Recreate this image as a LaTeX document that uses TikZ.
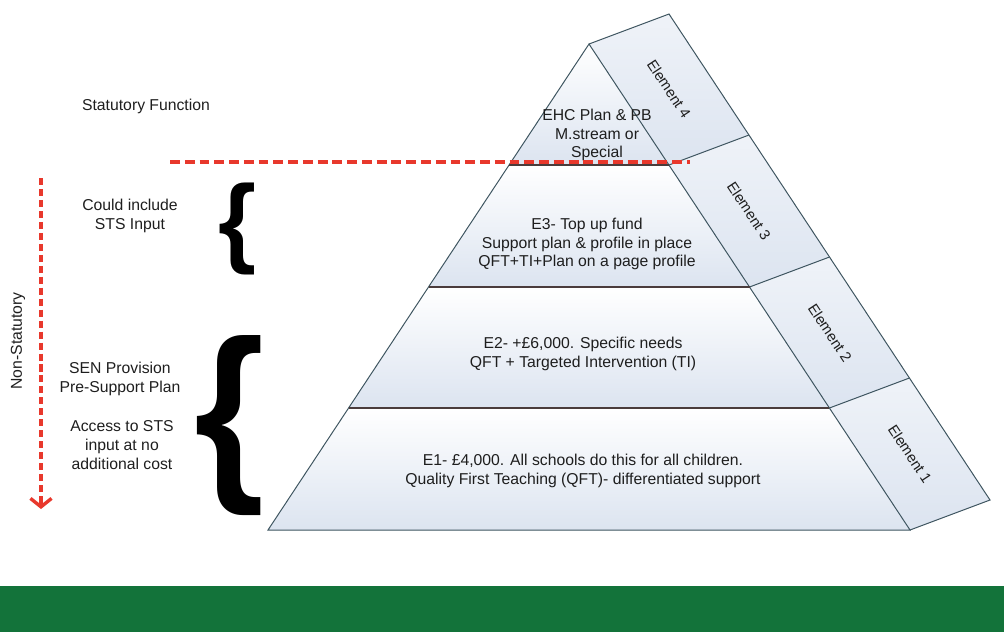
\documentclass[tikz,border=0pt]{standalone}
\usepackage{fontspec}
\setsansfont{Liberation Sans}
\usepackage{graphicx}
\usetikzlibrary{arrows.meta,calc}
\definecolor{pyrblue}{HTML}{DCE4F0}
\definecolor{edgegray}{HTML}{3E5560}
\definecolor{tierline}{HTML}{4A3C3C}
\definecolor{dashred}{HTML}{E8382C}
\definecolor{bandgreen}{HTML}{13733A}
\definecolor{txtgray}{HTML}{1E1E1E}

\begin{document}
\begin{tikzpicture}[x=0.025cm,y=-0.025cm,font=\sffamily\fontsize{11.2}{13.3}\selectfont,
    label/.style={txtgray,align=center,inner sep=0pt},
    element/.style={txtgray,rotate=-56.5,inner sep=0pt,font=\sffamily\fontsize{10.5}{12}\selectfont},
    edge/.style={edgegray,line width=0.7pt},
    tier/.style={tierline,line width=0.8pt},
    reddash/.style={dashred,line width=2.8pt,dash pattern=on 7pt off 3.5pt},
    tierfill/.style={top color=white,bottom color=pyrblue},
    stripfill/.style={top color=pyrblue!45,bottom color=pyrblue}]

  \useasboundingbox (0,0) rectangle (1004,632);

  % =====================================================================
  % 1. PYRAMID FRONT & ELEMENT STRIP
  % =====================================================================

  % Front face corners (left / right on each tier line)
  \coordinate (apex) at (589,44);
  \coordinate (L1) at (509,165);   \coordinate (R1) at (669,165);
  \coordinate (L2) at (428.5,287); \coordinate (R2) at (749.5,287);
  \coordinate (L3) at (348.6,408); \coordinate (R3) at (829.4,408);
  \coordinate (L4) at (268,530);   \coordinate (R4) at (910,530);

  % Outer edge of the element strip
  \coordinate (S0) at ($(apex)+(80,-30)$);
  \coordinate (S1) at ($(R1)+(80,-30)$);
  \coordinate (S2) at ($(R2)+(80,-30)$);
  \coordinate (S3) at ($(R3)+(80,-30)$);
  \coordinate (S4) at ($(R4)+(80,-30)$);

  % Tier shading
  \shade[tierfill] (apex) -- (R1) -- (L1) -- cycle;
  \shade[tierfill] (L1) -- (R1) -- (R2) -- (L2) -- cycle;
  \shade[tierfill] (L2) -- (R2) -- (R3) -- (L3) -- cycle;
  \shade[tierfill] (L3) -- (R3) -- (R4) -- (L4) -- cycle;

  % Strip shading
  \shade[stripfill] (apex) -- (S0) -- (S1) -- (R1) -- cycle;
  \shade[stripfill] (R1) -- (S1) -- (S2) -- (R2) -- cycle;
  \shade[stripfill] (R2) -- (S2) -- (S3) -- (R3) -- cycle;
  \shade[stripfill] (R3) -- (S3) -- (S4) -- (R4) -- cycle;

  % Outlines
  \draw[edge] (L4) -- (apex) -- (R4) -- cycle;
  \draw[edge] (apex) -- (S0) -- (S4) -- (R4);
  \draw[edge] (R1) -- (S1);
  \draw[edge] (R2) -- (S2);
  \draw[edge] (R3) -- (S3);
  \draw[tier] (L1) -- (R1);
  \draw[tier] (L2) -- (R2);
  \draw[tier] (L3) -- (R3);

  % Tier texts
  \node[label] (ehc) at (597,135) {EHC Plan \& PB\\M.stream or\\Special};
  \node[label] (e3) at (587,244)
        {E3- Top up fund\\Support plan \& profile in place\\QFT+TI+Plan on a page profile};
  \node[label] (e2) at (583,354)
        {E2- +£6,000. Specific needs\\QFT + Targeted Intervention (TI)};
  \node[label] (e1) at (583,471)
        {E1- £4,000. All schools do this for all children.\\Quality First Teaching (QFT)- differentiated support};

  % Strip labels
  \node[element] (el4) at (669,89) {Element 4};
  \node[element] (el3) at (749,211) {Element 3};
  \node[element] (el2) at (830,333) {Element 2};
  \node[element] (el1) at (910,454) {Element 1};

  % =====================================================================
  % 2. LEFT ANNOTATIONS
  % =====================================================================

  % Statutory divider
  \coordinate (divL) at (170,162);
  \coordinate (divR) at (690,162);
  \draw[reddash] (divL) -- (divR);

  % Non-statutory arrow
  \coordinate (vtop) at (41,178);
  \coordinate (vend) at (41,500);
  \coordinate (vbot) at (41,509);
  \draw[dashred,line width=2.6pt,dash pattern=on 5pt off 2.8pt] (vtop) -- (vend);
  \draw[dashred,line width=2.4pt,
        -{Straight Barb[length=6pt,width=15pt]}] (vend) -- (vbot);
  \node[label,rotate=90] (nonstat) at (18,341) {Non-Statutory};

  \node[label] (stat) at (146,106) {Statutory Function};
  \node[label] (sts) at (130,216) {Could include\\STS Input};
  \node[label] (sen) at (120,379) {SEN Provision\\Pre-Support Plan};
  \node[label] (access) at (122,445) {Access to STS\\input at no\\additional cost};

  % Braces
  \node[inner sep=0pt] (brsmall) at (238,229) {\resizebox*{0.95cm}{2.3cm}{\bfseries\{}};
  \node[inner sep=0pt] (brlarge) at (230,426) {\resizebox*{1.75cm}{4.5cm}{\bfseries\{}};

  % Green footer band
  \fill[bandgreen] (0,586) rectangle (1004,632);

\end{tikzpicture}
\end{document}
